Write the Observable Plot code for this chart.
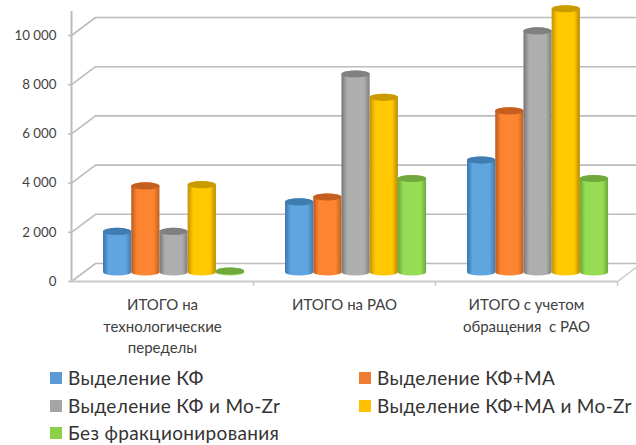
<!DOCTYPE html>
<html lang="ru">
<head>
<meta charset="utf-8">
<script src="https://cdn.jsdelivr.net/npm/d3@7"></script>
<script src="https://cdn.jsdelivr.net/npm/@observablehq/plot@0.6"></script>
<style>
  html, body { margin: 0; padding: 0; background: #fff; width: 636px; height: 445px; overflow: hidden; }
  #chart { position: absolute; left: 0; top: 0; }
  .key { position: absolute; font: 19px Lato, sans-serif; letter-spacing: 0.33px; color: #333; white-space: nowrap; line-height: 20px; }
  .key i { position: absolute; left: -18px; top: 4px; width: 12px; height: 12px; }
</style>
</head>
<body>
<div id="chart"></div>
<div id="legend"></div>
<script>
// Category labels along the horizontal axis
const categories = [
  "ИТОГО на\nтехнологические\nпеределы",
  "ИТОГО на РАО",
  "ИТОГО с учетом\nобращения  с РАО"
];

// One row per separation scheme, one value per category
const seriesNames = [
  "Выделение КФ",
  "Выделение КФ+МА",
  "Выделение КФ и Mo-Zr",
  "Выделение КФ+МА и Mo-Zr",
  "Без фракционирования"
];
const kf      = [1650, 2850, 4550];
const kfMa    = [3500, 3050, 6550];
const kfMoZr  = [1650, 8050, 9800];
const kfMaMo  = [3550, 7100, 10700];
const noSplit = [40, 3800, 3800];
const yTicks  = [0, 2000, 4000, 6000, 8000, 10000];

const seriesValues = [kf, kfMa, kfMoZr, kfMaMo, noSplit];

// edge, middle, edge, cap tones for each cylinder
const tones = [
  ["#3a74a8", "#5fa5e0", "#3f7cb4", "#3f7cb0"],
  ["#b9591f", "#fd8431", "#c0601f", "#c55f20"],
  ["#767676", "#aeaeae", "#7e7e7e", "#808080"],
  ["#c19200", "#ffc800", "#b68a00", "#c99b00"],
  ["#6ea63a", "#96dd55", "#70a83c", "#6fa83c"]
];

const rows = seriesValues.flatMap((values, s) =>
  values.map((value, g) => ({group: g, series: s, value}))
);

// Horizontal positions are in category units: one unit per category
const barStart = 0.176, barStep = 0.155;
const left = d => d.group + barStart + d.series * barStep;
const right = d => left(d) + barStep;
const capHalf = 145;                 // half the height of the elliptical cap, in value units
const depthX = 24 / 182, depthY = 732; // depth of the floor in scale units

const groupFormat = d3.formatLocale({thousands: "\u00a0", grouping: [3], decimal: ","}).format(",");

// Horizontal cylinder shading, one gradient per series
const gradients = () => {
  const svg = document.createElementNS("http://www.w3.org/2000/svg", "defs");
  svg.innerHTML = tones.map((t, i) => `
    <linearGradient id="cyl${i}" x1="0" x2="1" y1="0" y2="0">
      <stop offset="0" stop-color="${t[0]}"/>
      <stop offset="0.2" stop-color="${t[1]}"/>
      <stop offset="0.8" stop-color="${t[1]}"/>
      <stop offset="1" stop-color="${t[2]}"/>
    </linearGradient>`).join("");
  return svg;
};

const wall = "#bcbcbc";

const plot = Plot.plot({
  width: 636,
  height: 365,
  marginLeft: 71,
  marginRight: 19,
  marginTop: 11,
  marginBottom: 84,
  x: {domain: [0, 3], range: [71, 617], axis: null},
  y: {domain: [0, 10976], range: [281, 11], axis: null},
  style: {fontFamily: "Lato, sans-serif", background: "#fff"},
  marks: [
    gradients,
    // back wall grid, side wall diagonals
    Plot.ruleY(yTicks, {x1: 0, x2: 3.11, dx: 24, dy: -18, stroke: wall, strokeWidth: 1.6}),
    Plot.link(yTicks, {x1: 0, y1: d => d, x2: depthX, y2: d => d + depthY, stroke: wall, strokeWidth: 1.6}),
    Plot.link([0], {x1: 3, y1: 0, x2: 3 + depthX, y2: depthY, stroke: "#c9c9c9", strokeWidth: 1.4}),
    // axes
    Plot.ruleX([0], {y1: 0, y2: 10976, stroke: wall, strokeWidth: 2}),
    Plot.ruleY([0], {x1: 0, x2: 3, stroke: "#c9c9c9", strokeWidth: 2.2}),
    Plot.axisY(yTicks, {
      anchor: "left", tickSize: 3, tickPadding: 12, tickFormat: groupFormat,
      stroke: wall, fill: "#3f3f3f", fontSize: 13.3, strokeWidth: 1.5
    }),
    Plot.ruleX([1, 2, 3], {y1: -200, y2: 0, stroke: "#c9c9c9", strokeWidth: 1.4}),
    // cylinder bodies and top caps, both raised to mid depth
    Plot.rect(rows, {
      x1: left, x2: right, y1: -capHalf, y2: d => d.value + capHalf,
      fill: d => `url(#cyl${d.series})`, rx: 14, ry: 3.6, dy: -9
    }),
    Plot.rect(rows, {
      x1: left, x2: right, y1: d => d.value - capHalf, y2: d => d.value + capHalf,
      fill: d => tones[d.series][3], rx: 14, ry: 3.6, dy: -9
    }),
    // category labels
    Plot.text(categories, {
      x: (d, i) => i + 0.5, y: -560, text: d => d, lineHeight: 1.42, lineAnchor: "top",
      fontSize: 15, fill: "#404040"
    })
  ]
});
document.getElementById("chart").append(plot);

// Two-column legend below the chart
const legendPos = [[68, 368], [377, 368], [68, 396], [377, 396], [68, 423]];
const swatch = ["#5b9bd5", "#ed7d31", "#a5a5a5", "#ffc000", "#8ad048"];
const legend = document.getElementById("legend");
seriesNames.forEach((name, i) => {
  const key = document.createElement("div");
  key.className = "key";
  key.style.left = legendPos[i][0] + "px";
  key.style.top = legendPos[i][1] + "px";
  key.innerHTML = `<i style="background:${swatch[i]}"></i>`;
  key.append(name);
  legend.append(key);
});
</script>
</body>
</html>
